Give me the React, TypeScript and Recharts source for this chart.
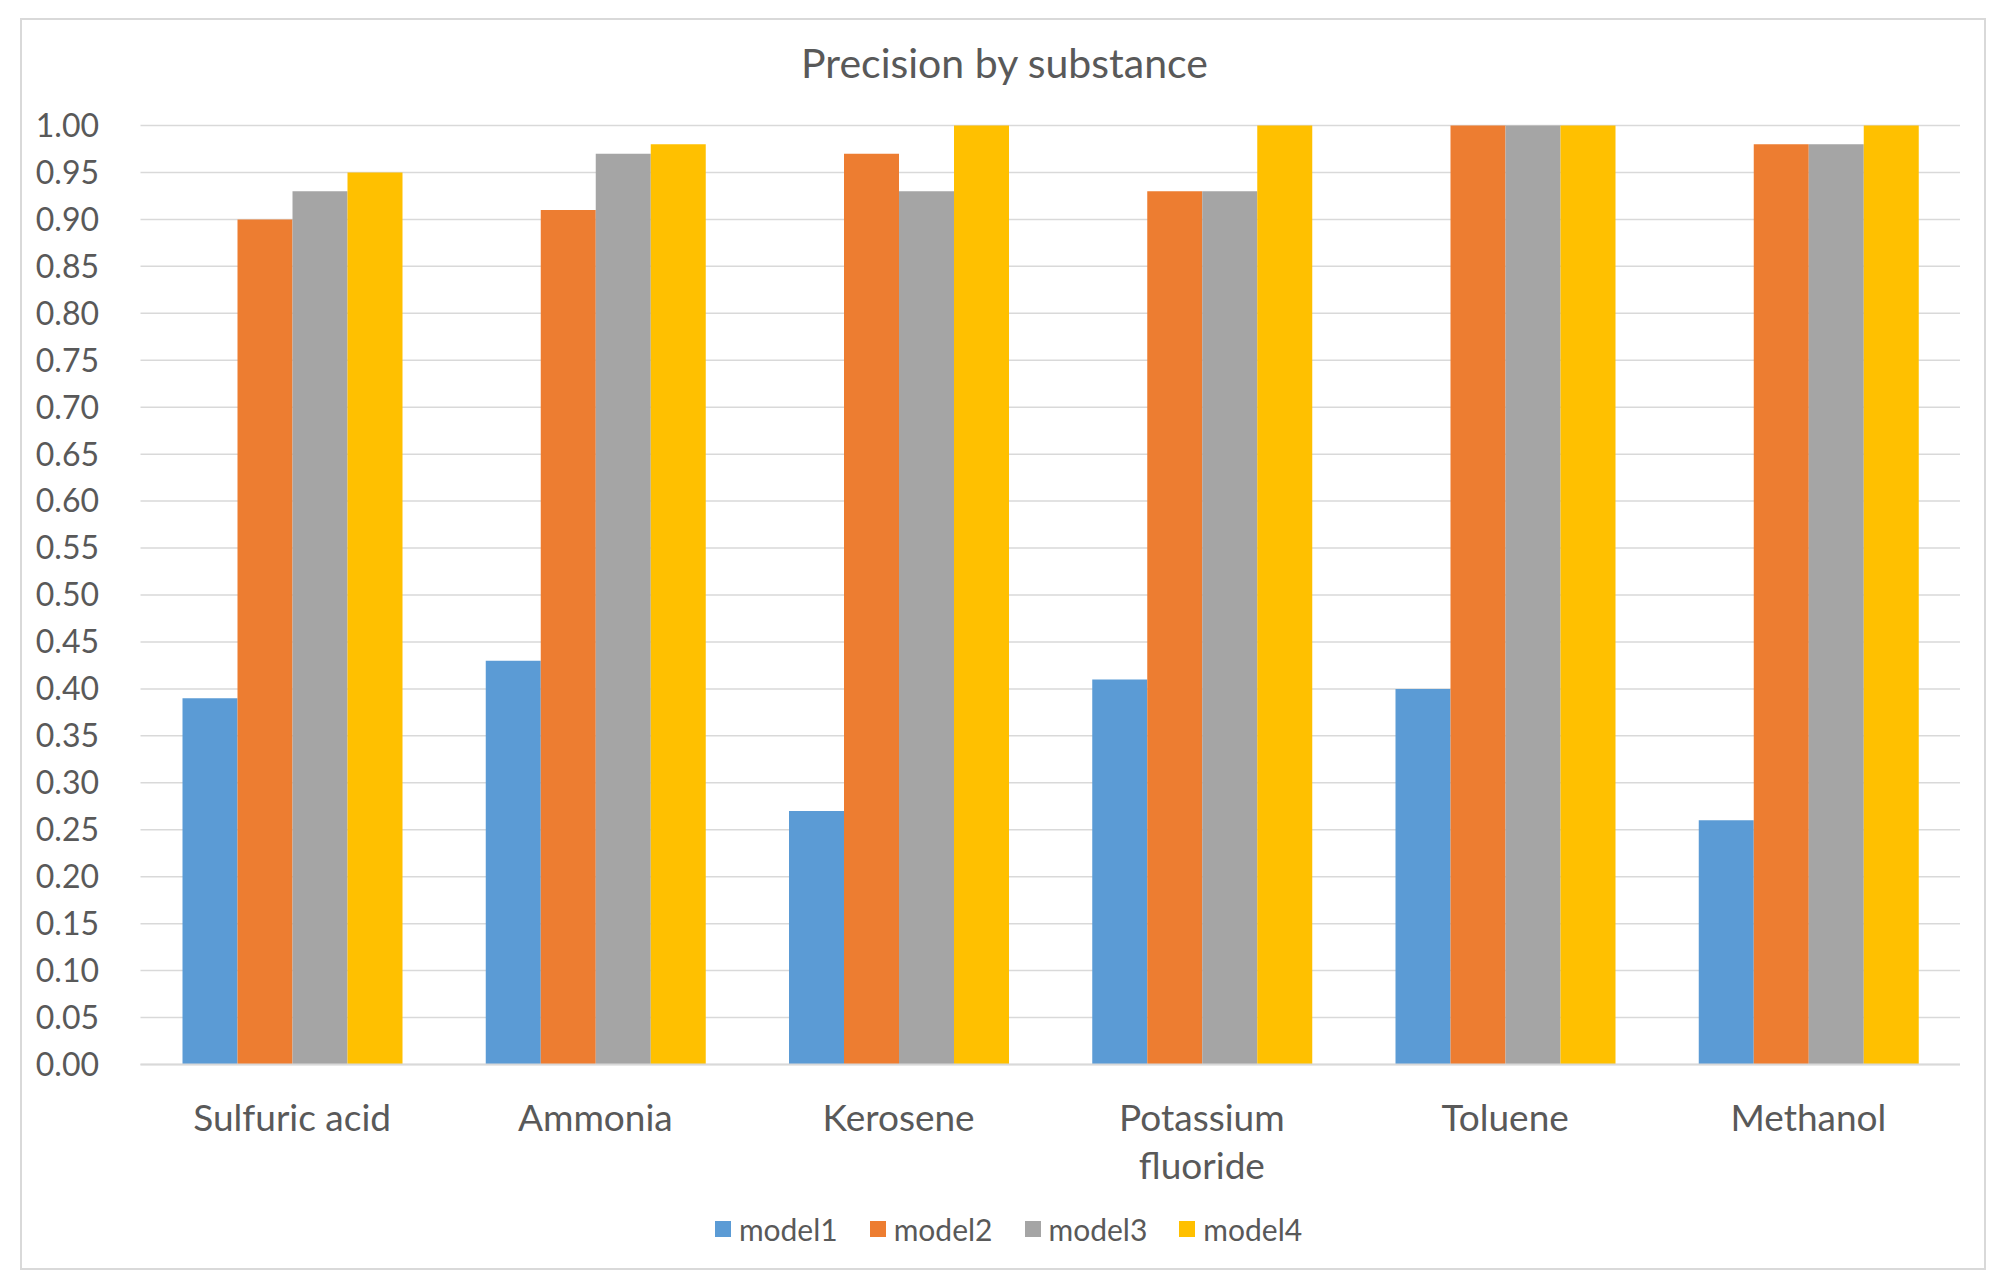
import React from "react";
import {
  BarChart,
  Bar,
  XAxis,
  YAxis,
  CartesianGrid,
  Legend,
} from "recharts";

const substances = [
  "Sulfuric acid",
  "Ammonia",
  "Kerosene",
  "Potassium fluoride",
  "Toluene",
  "Methanol",
];
const model1 = [0.39, 0.43, 0.27, 0.41, 0.4, 0.26];
const model2 = [0.9, 0.91, 0.97, 0.93, 1.0, 0.98];
const model3 = [0.93, 0.97, 0.93, 0.93, 1.0, 0.98];
const model4 = [0.95, 0.98, 1.0, 1.0, 1.0, 1.0];
const yTicks = [
  0, 0.05, 0.1, 0.15, 0.2, 0.25, 0.3, 0.35, 0.4, 0.45, 0.5, 0.55, 0.6, 0.65,
  0.7, 0.75, 0.8, 0.85, 0.9, 0.95, 1.0,
];

const seriesNames = ["model1", "model2", "model3", "model4"];
const colors = ["#5B9BD5", "#ED7D31", "#A5A5A5", "#FFC000"];

const chartData = substances.map((name, i) => ({
  name,
  model1: model1[i],
  model2: model2[i],
  model3: model3[i],
  model4: model4[i],
}));

const FONT = "Lato, 'Open Sans', sans-serif";
const TEXT = "#595959";
const GRID = "#D9D9D9";

// long labels wrap onto two lines, like Excel does
const wrapLabel = (s: string) => {
  if (s.length <= 14) return [s];
  const cut = s.lastIndexOf(" ");
  return [s.slice(0, cut), s.slice(cut + 1)];
};

const CategoryTick = (props: any) => {
  const { x, y, payload } = props;
  const lines = wrapLabel(payload.value);
  return (
    <text
      x={x}
      y={y}
      textAnchor="middle"
      fill={TEXT}
      fontFamily={FONT}
      fontSize={37}
    >
      {lines.map((l, i) => (
        <tspan key={i} x={x} dy={i === 0 ? "0.71em" : 48}>
          {l}
        </tspan>
      ))}
    </text>
  );
};

const LegendContent = () => (
  <div
    style={{
      display: "flex",
      justifyContent: "center",
      alignItems: "center",
      height: 40,
      fontFamily: FONT,
      fontSize: 30,
      color: TEXT,
      gap: 32,
      paddingLeft: 8,
    }}
  >
    {seriesNames.map((s, i) => (
      <div key={s} style={{ display: "flex", alignItems: "center" }}>
        <span
          style={{
            width: 16,
            height: 16,
            background: colors[i],
            marginRight: 8,
            display: "inline-block",
          }}
        />
        <span>{s}</span>
      </div>
    ))}
  </div>
);

export default function App() {
  return (
    <div
      style={{
        position: "absolute",
        left: 0,
        top: 0,
        width: 2009,
        height: 1270,
        background: "#fff",
      }}
    >
      <div
        style={{
          position: "absolute",
          left: 20,
          top: 18,
          width: 1962,
          height: 1248,
          border: `2px solid ${GRID}`,
        }}
      />
      <div
        style={{
          position: "absolute",
          left: 0,
          width: 2009,
          top: 39,
          textAlign: "center",
          fontFamily: FONT,
          fontSize: 41,
          color: TEXT,
          lineHeight: "48px",
        }}
      >
        Precision by substance
      </div>
      <div style={{ position: "absolute", left: 0, top: 0 }}>
        <BarChart
          width={2009}
          height={1270}
          data={chartData}
          margin={{ top: 125.5, right: 49, left: 0, bottom: 21 }}
          barCategoryGap={42}
          barGap={0}
        >
          <CartesianGrid vertical={false} stroke={GRID} strokeWidth={1.5} />
          <XAxis
            dataKey="name"
            height={144.5}
            axisLine={{ stroke: GRID, strokeWidth: 2 }}
            tickLine={false}
            tickSize={0}
            tickMargin={40}
            interval={0}
            tick={<CategoryTick />}
          />
          <YAxis
            width={140.5}
            domain={[0, 1]}
            ticks={yTicks}
            interval={0}
            axisLine={false}
            tickLine={false}
            tickSize={0}
            tickMargin={41.5}
            tickFormatter={(v: number) => v.toFixed(2)}
            tick={{ fill: TEXT, fontSize: 32, fontFamily: FONT }}
          />
          <Legend
            verticalAlign="bottom"
            height={40}
            content={<LegendContent />}
            wrapperStyle={{ left: 0, width: 2009 }}
          />
          {seriesNames.map((s, i) => (
            <Bar
              key={s}
              dataKey={s}
              fill={colors[i]}
              isAnimationActive={false}
            />
          ))}
        </BarChart>
      </div>
    </div>
  );
}
